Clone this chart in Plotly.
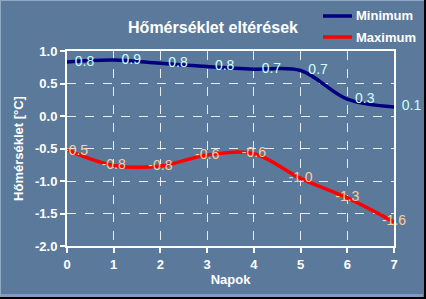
import plotly.graph_objects as go

days = [0, 1, 2, 3, 4, 5, 6, 7]
minimum = [0.83, 0.86, 0.81, 0.76, 0.72, 0.70, 0.26, 0.14]
maximum = [-0.52, -0.76, -0.77, -0.60, -0.58, -0.96, -1.26, -1.63]
series_names = ["Minimum", "Maximum"]
series_colors = ["#000080", "#FF0000"]
y_ticks = [1.0, 0.5, 0.0, -0.5, -1.0, -1.5, -2.0]
x_ticks = days

BG = "#5B7A9B"
W, H = 426, 299
L, R, T, B = 67, 32, 51, 53
PW, PH = W - L - R, H - T - B


def px_x(p):
    return (p - L) / PW


def px_y(p):
    return 1 - (p - T) / PH


max_text = [f"{v:.1f}" for v in maximum]
first_max_label = max_text[0]
max_text[0] = ""

fig = go.Figure()
fig.add_trace(go.Scatter(
    x=days, y=minimum, name=series_names[0], mode="lines+text",
    line=dict(color=series_colors[0], width=3.5, shape="spline", smoothing=1.0),
    text=[f"  {v:.1f}" for v in minimum], textposition="middle right",
    textfont=dict(family="Arial", size=14, color="#CCFFFF"),
    cliponaxis=False,
))
fig.add_trace(go.Scatter(
    x=days, y=maximum, name=series_names[1], mode="lines+text",
    line=dict(color=series_colors[1], width=3.5, shape="spline", smoothing=1.0),
    text=max_text, textposition="middle center",
    textfont=dict(family="Arial", size=14, color="#FFCC99"),
    cliponaxis=False,
))

shapes = [
    dict(type="line", xref="paper", yref="paper", x0=px_x(0.5), x1=px_x(W), y0=px_y(0.5), y1=px_y(0.5),
         line=dict(color="#8FA8C4", width=1), layer="above"),
    dict(type="line", xref="paper", yref="paper", x0=px_x(0.5), x1=px_x(0.5), y0=px_y(0), y1=px_y(H),
         line=dict(color="#8FA8C4", width=1), layer="above"),
    dict(type="line", xref="paper", yref="paper", x0=px_x(1), x1=px_x(W - 3), y0=px_y(H - 3.5), y1=px_y(H - 3.5),
         line=dict(color="#7F9CC0", width=3), layer="above"),
    dict(type="line", xref="paper", yref="paper", x0=px_x(0), x1=px_x(W), y0=px_y(H - 1), y1=px_y(H - 1),
         line=dict(color="#000000", width=2), layer="above"),
    dict(type="line", xref="paper", yref="paper", x0=px_x(W - 1), x1=px_x(W - 1), y0=px_y(0), y1=px_y(H),
         line=dict(color="#000000", width=2), layer="above"),
]
annotations = [
    dict(text=first_max_label, x=days[0], y=maximum[0], xref="x", yref="y",
         xanchor="left", yanchor="middle", xshift=-5, showarrow=False,
         font=dict(family="Arial", size=14, color="#FFCC99")),
]
legend_rows = [16, 37]
for name, color, yrow in zip(series_names, series_colors, legend_rows):
    shapes.append(dict(type="line", xref="paper", yref="paper",
                       x0=px_x(323), x1=px_x(352), y0=px_y(yrow), y1=px_y(yrow),
                       line=dict(color=color, width=3.5), layer="above"))
    annotations.append(dict(text=f"<b>{name}</b>", xref="paper", yref="paper",
                            x=px_x(354), y=px_y(yrow), xanchor="left", yanchor="middle",
                            showarrow=False, font=dict(family="Arial", size=13, color="white")))

fig.update_layout(
    width=W, height=H,
    margin=dict(l=L, r=R, t=T, b=B, autoexpand=False),
    paper_bgcolor=BG, plot_bgcolor=BG,
    font=dict(family="Arial", color="white", size=12),
    title=dict(text="<b>Hőmérséklet eltérések</b>", x=213 / W, xanchor="center",
               y=1 - 27 / H, yanchor="middle", font=dict(size=16, color="white")),
    showlegend=False,
    shapes=shapes,
    annotations=annotations,
)

common = dict(
    showline=True, linecolor="white", linewidth=2, mirror=True,
    ticks="outside", tickcolor="white", ticklen=5, tickwidth=2,
    showgrid=True, gridcolor="rgba(255,255,255,0.85)", griddash="dash", gridwidth=1,
    zeroline=False, automargin=False,
    tickfont=dict(family="Arial", size=13, color="white", weight="bold"),
)
fig.update_xaxes(
    range=[0, 7], tickvals=x_ticks, ticktext=[str(v) for v in x_ticks],
    title=dict(text="<b>Napok</b>", font=dict(size=13, color="white"), standoff=4),
    **common,
)
fig.update_yaxes(
    range=[-2.0, 1.0], tickvals=y_ticks, ticktext=[f"{v:.1f}" for v in y_ticks],
    title=dict(text="<b>Hőmérséklet [°C]</b>", font=dict(size=13, color="white"), standoff=8),
    **common,
)

fig.write_html("out.html")
